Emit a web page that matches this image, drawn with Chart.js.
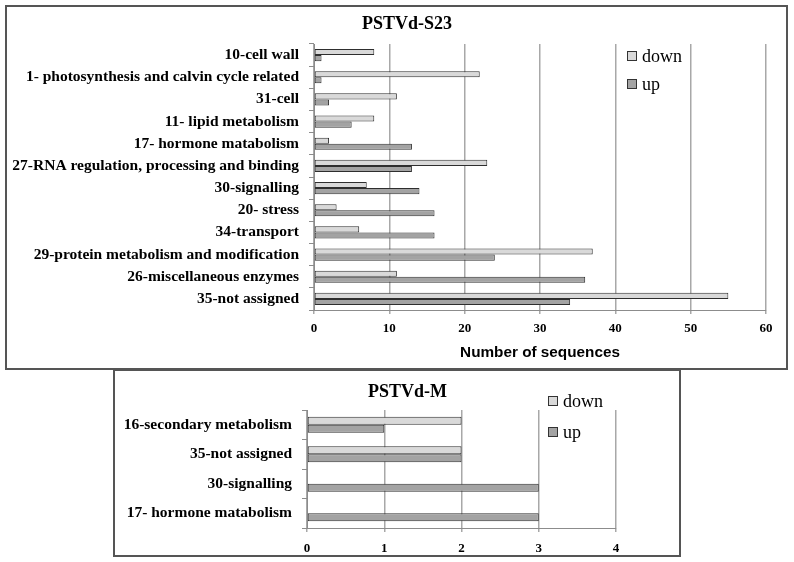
<!DOCTYPE html>
<html>
<head>
<meta charset="utf-8">
<script src="https://cdn.jsdelivr.net/npm/chart.js@4.4.0/dist/chart.umd.min.js"></script>
<style>
  body { margin: 0; width: 794px; height: 562px; background: #fff; position: relative; overflow: hidden; }
  .box { position: absolute; border: 2px solid #555; box-sizing: border-box; }
  #box1 { left: 5px; top: 5px; width: 783px; height: 365px; }
  #box2 { left: 113px; top: 369px; width: 568px; height: 188px; }
  canvas { position: absolute; left: 0; }
  #s23 { top: 0; }
  #m { top: 371px; }
</style>
</head>
<body>
<div class="box" id="box1"></div>
<div class="box" id="box2"></div>
<canvas id="s23" width="794" height="370"></canvas>
<canvas id="m" width="794" height="185"></canvas>
<script>
// PSTVd-S23 data
const s23Categories = [
    '10-cell wall',
    '1- photosynthesis and calvin cycle related',
    '31-cell',
    '11- lipid metabolism',
    '17- hormone matabolism',
    '27-RNA regulation, processing and binding',
    '30-signalling',
    '20- stress',
    '34-transport',
    '29-protein metabolism and modification',
    '26-miscellaneous enzymes',
    '35-not assigned'
];
const s23Down = [8, 22, 11, 8, 2, 23, 7, 3, 6, 37, 11, 55];
const s23Up   = [1, 1, 2, 5, 13, 13, 14, 16, 16, 24, 36, 34];
const s23Ticks = [0, 10, 20, 30, 40, 50, 60];

// PSTVd-M data
const mCategories = [
    '16-secondary metabolism',
    '35-not assigned',
    '30-signalling',
    '17- hormone matabolism'
];
const mDown = [2, 2, 0, 0];
const mUp   = [1, 2, 3, 3];
const mTicks = [0, 1, 2, 3, 4];

const SERIF = '"Liberation Serif", "Times New Roman", serif';

// title is centred on the figure, not on the plot, so draw it ourselves
const fixedTitle = {
    id: 'fixedTitle',
    afterDraw(chart, args, opts) {
        const ctx = chart.ctx;
        ctx.save();
        ctx.font = 'bold 18px ' + SERIF;
        ctx.fillStyle = '#000';
        ctx.textAlign = 'center';
        ctx.textBaseline = 'middle';
        ctx.fillText(opts.text, opts.x, opts.y);
        ctx.restore();
    }
};

// legend drawn inside the plot area, like the original
const innerLegend = {
    id: 'innerLegend',
    afterDraw(chart, args, opts) {
        const ctx = chart.ctx;
        ctx.save();
        ctx.font = '18px ' + SERIF;
        ctx.textBaseline = 'middle';
        chart.data.datasets.forEach((ds, i) => {
            const y = opts.y + i * opts.rowGap;
            ctx.fillStyle = ds.backgroundColor;
            ctx.fillRect(opts.x, y - 5, 10, 10);
            ctx.strokeStyle = '#333';
            ctx.lineWidth = 1;
            ctx.strokeRect(opts.x + 0.5, y - 4.5, 9, 9);
            ctx.fillStyle = '#000';
            ctx.fillText(ds.label, opts.x + 15, y + 1);
        });
        ctx.restore();
    }
};

function makeChart(id, title, labels, down, up, ticks, cfg) {
    new Chart(document.getElementById(id), {
        type: 'bar',
        data: {
            labels: labels,
            datasets: [
                { label: 'down', data: down, backgroundColor: '#d9d9d9', borderColor: '#2e2e2e', borderWidth: 1, borderSkipped: false },
                { label: 'up',   data: up,   backgroundColor: '#a3a3a3', borderColor: '#2e2e2e', borderWidth: 1, borderSkipped: false }
            ]
        },
        options: {
            indexAxis: 'y',
            responsive: false,
            animation: false,
            categoryPercentage: 0.55,
            barPercentage: 1,
            layout: { padding: cfg.padding },
            scales: {
                x: {
                    type: 'linear',
                    min: ticks[0],
                    max: ticks[ticks.length - 1],
                    ticks: { stepSize: ticks[1] - ticks[0], color: '#000', padding: cfg.tickPad,
                             font: { family: SERIF, size: 13, weight: 'bold' } },
                    grid: { color: '#a8a8a8', lineWidth: 1.5, tickLength: 4 },
                    border: { color: '#8c8c8c', width: 1 },
                    title: cfg.xTitle,
                    afterFit(scale) { scale.height = cfg.xHeight; }
                },
                y: {
                    type: 'category',
                    ticks: { color: '#000', padding: 10, font: { family: SERIF, size: 15.5, weight: 'bold' } },
                    grid: { drawOnChartArea: false, tickLength: 5, color: '#8c8c8c', offset: true },
                    border: { color: '#8c8c8c', width: 1 },
                    afterFit(scale) { scale.width = cfg.yWidth; }
                }
            },
            plugins: {
                legend: { display: false },
                tooltip: { enabled: false },
                title: { display: false },
                fixedTitle: { text: title, x: cfg.titleX, y: cfg.titleY },
                innerLegend: cfg.legend
            }
        },
        plugins: [fixedTitle, innerLegend]
    });
}

makeChart('s23', 'PSTVd-S23', s23Categories, s23Down, s23Up, s23Ticks, {
    padding: { left: 0, right: 28, top: 44, bottom: 4 },
    titleX: 407, titleY: 24,
    yWidth: 314,
    xHeight: 56,
    tickPad: 7,
    xTitle: { display: true, text: 'Number of sequences', color: '#000',
              font: { family: '"Liberation Sans", Arial, sans-serif', size: 15.3, weight: 'bold' },
              padding: { top: 4, bottom: 4 } },
    legend: { x: 627, y: 56, rowGap: 28 }
});

makeChart('m', 'PSTVd-M', mCategories, mDown, mUp, mTicks, {
    padding: { left: 0, right: 178, top: 39, bottom: 0 },
    titleX: 407.5, titleY: 21,
    yWidth: 307,
    xHeight: 28,
    tickPad: 9,
    xTitle: { display: false },
    legend: { x: 548, y: 30, rowGap: 31 }
});
</script>
</body>
</html>
